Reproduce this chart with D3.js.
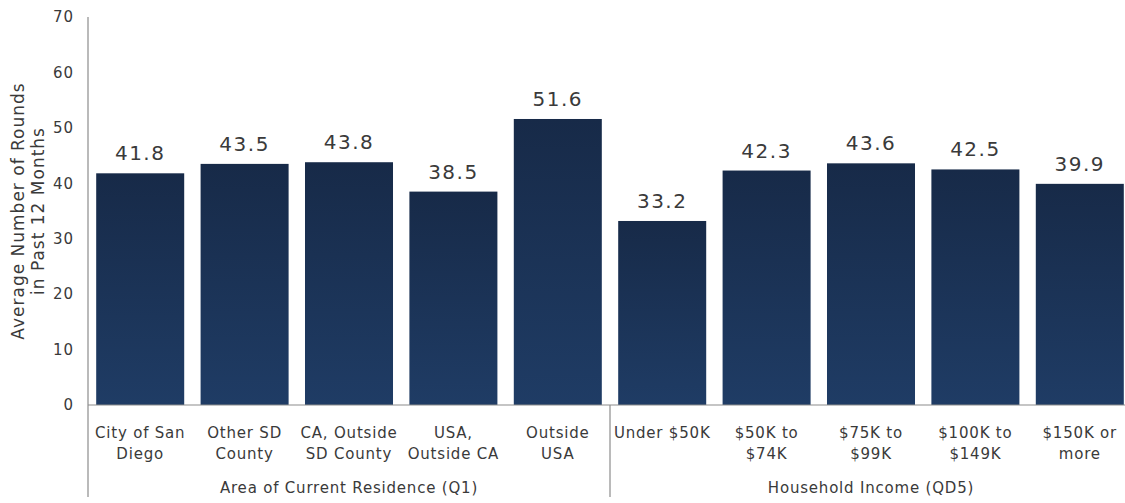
<!DOCTYPE html>
<html>
<head>
<meta charset="utf-8">
<script src="https://cdn.jsdelivr.net/npm/d3@7"></script>
<style>
  html, body { margin: 0; padding: 0; background: #fff; }
  svg { display: block; font-family: "DejaVu Sans", Verdana, sans-serif; }
</style>
</head>
<body>
<svg id="chart" width="1125" height="503"></svg>
<script>
// Average golf rounds played in the past 12 months, by residence and income
const categories = [
  ["City of San", "Diego"],
  ["Other SD", "County"],
  ["CA, Outside", "SD County"],
  ["USA,", "Outside CA"],
  ["Outside", "USA"],
  ["Under $50K"],
  ["$50K to", "$74K"],
  ["$75K to", "$99K"],
  ["$100K to", "$149K"],
  ["$150K or", "more"]
];
const rounds = [41.8, 43.5, 43.8, 38.5, 51.6, 33.2, 42.3, 43.6, 42.5, 39.9];
const groups = ["Area of Current Residence (Q1)", "Household Income (QD5)"];
const groupSizes = [5, 5];
const yTicks = [0, 10, 20, 30, 40, 50, 60, 70];
const yTitle = ["Average Number of Rounds", "in Past 12 Months"];

const svg = d3.select("#chart");
const textColor = "#3a3a3a";
const lineColor = "#8c8c8c";

const x = d3.scaleBand()
  .domain(d3.range(rounds.length))
  .range([88, 1132])
  .paddingInner(0.157)
  .paddingOuter(0.0785);

const y = d3.scaleLinear().domain([0, 70]).range([405, 17]);

// vertical gradient for the bars
const defs = svg.append("defs");
const grad = defs.append("linearGradient")
  .attr("id", "barFill").attr("x1", 0).attr("y1", 0).attr("x2", 0).attr("y2", 1);
grad.append("stop").attr("offset", "0%").attr("stop-color", "#172a48");
grad.append("stop").attr("offset", "100%").attr("stop-color", "#1f3c65");

// bars
svg.append("g").selectAll("rect")
  .data(rounds)
  .join("rect")
  .attr("x", (d, i) => x(i))
  .attr("y", d => y(d))
  .attr("width", x.bandwidth())
  .attr("height", d => y(0) - y(d))
  .attr("fill", "url(#barFill)");

// value labels
svg.append("g").selectAll("text")
  .data(rounds)
  .join("text")
  .attr("x", (d, i) => x(i) + x.bandwidth() / 2)
  .attr("y", d => y(d) - 13)
  .attr("text-anchor", "middle")
  .attr("font-size", 20)
  .attr("letter-spacing", 1.5)
  .attr("fill", textColor)
  .text(d => d.toFixed(1));

// y axis
const yAxis = svg.append("g")
  .attr("transform", "translate(88,0)")
  .call(d3.axisLeft(y).tickValues(yTicks).tickSize(0).tickPadding(14));
yAxis.select(".domain").remove();
yAxis.selectAll("text")
  .attr("font-size", 15)
  .attr("letter-spacing", 1)
  .attr("fill", textColor)
  .attr("font-family", "DejaVu Sans, Verdana, sans-serif");

// axis lines
svg.append("line")
  .attr("x1", 88).attr("x2", 88).attr("y1", y(70)).attr("y2", 497)
  .attr("stroke", lineColor).attr("stroke-width", 1.2);
svg.append("line")
  .attr("x1", 88).attr("x2", 1125).attr("y1", y(0)).attr("y2", y(0))
  .attr("stroke", lineColor).attr("stroke-width", 1.2);

// group divider(s)
let acc = 0;
groupSizes.slice(0, -1).forEach(n => {
  acc += n;
  const gx = x(acc) - x.step() * x.paddingInner() / 2;
  svg.append("line")
    .attr("x1", gx).attr("x2", gx).attr("y1", y(0)).attr("y2", 497)
    .attr("stroke", lineColor).attr("stroke-width", 1.2);
});

// category labels
const catG = svg.append("g");
categories.forEach((lines, i) => {
  const t = catG.append("text")
    .attr("x", x(i) + x.bandwidth() / 2)
    .attr("y", 438)
    .attr("text-anchor", "middle")
    .attr("font-size", 15)
    .attr("letter-spacing", 0.8)
    .attr("fill", textColor);
  lines.forEach((ln, k) => {
    t.append("tspan")
      .attr("x", x(i) + x.bandwidth() / 2)
      .attr("dy", k === 0 ? 0 : 21)
      .text(ln);
  });
});

// group labels
let start = 0;
groups.forEach((g, gi) => {
  const n = groupSizes[gi];
  const x0 = x(start), x1 = x(start + n - 1) + x.bandwidth();
  svg.append("text")
    .attr("x", (x0 + x1) / 2)
    .attr("y", 493)
    .attr("text-anchor", "middle")
    .attr("font-size", 15)
    .attr("letter-spacing", 0.8)
    .attr("fill", textColor)
    .text(g);
  start += n;
});

// y axis title
const tt = svg.append("text")
  .attr("transform", "translate(24,211) rotate(-90)")
  .attr("text-anchor", "middle")
  .attr("font-size", 17)
  .attr("letter-spacing", 1)
  .attr("fill", textColor);
yTitle.forEach((ln, k) => {
  tt.append("tspan").attr("x", 0).attr("dy", k === 0 ? 0 : 20).text(ln);
});
</script>
</body>
</html>
